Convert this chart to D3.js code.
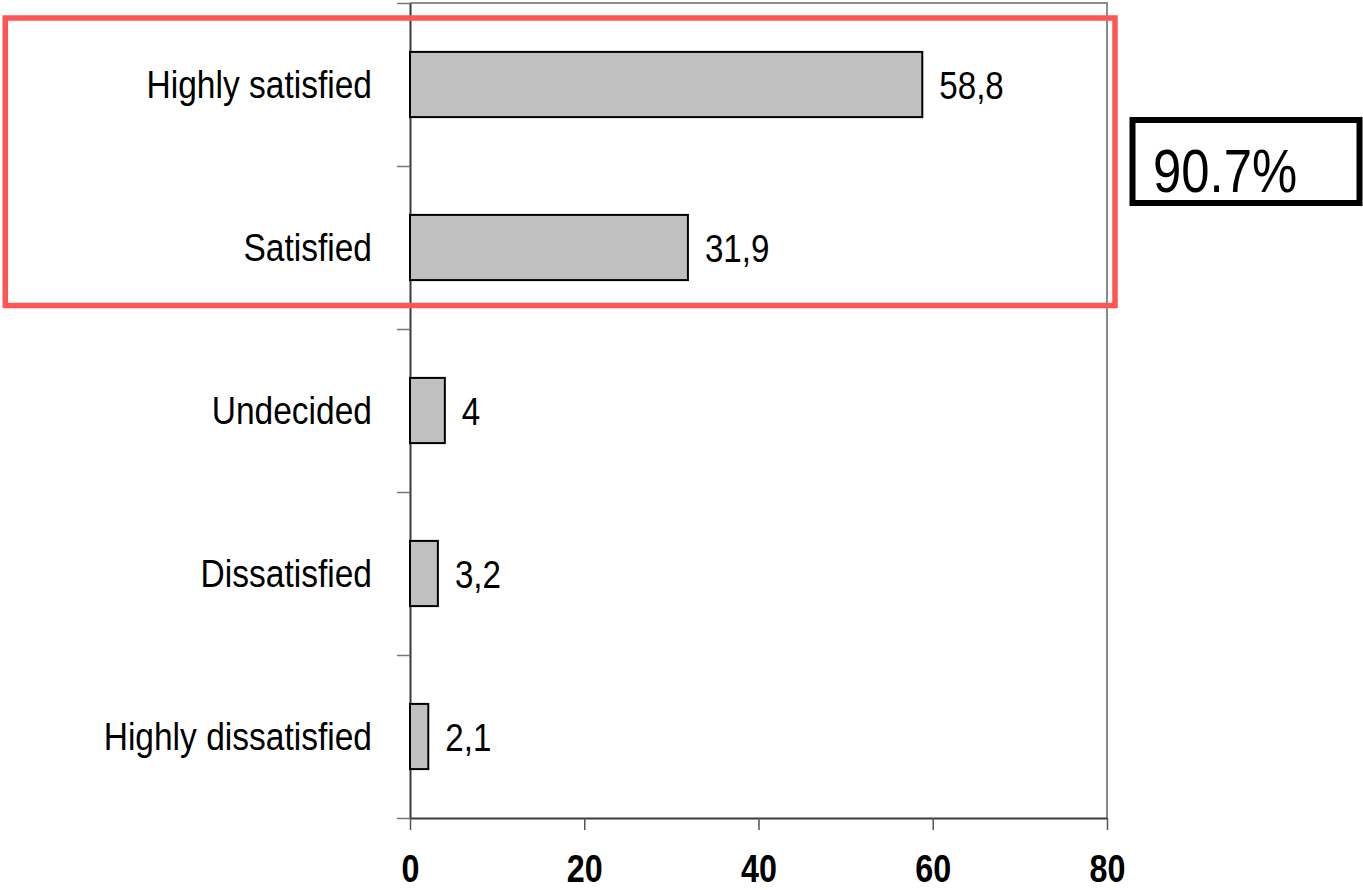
<!DOCTYPE html>
<html>
<head>
<meta charset="utf-8">
<script src="https://cdn.jsdelivr.net/npm/d3@7/dist/d3.min.js"></script>
<style>
  html, body { margin: 0; padding: 0; background: #fff; }
  svg { display: block; }
</style>
</head>
<body>
<svg id="chart" width="1363" height="890"></svg>
<script>
const categories = ["Highly satisfied", "Satisfied", "Undecided", "Dissatisfied", "Highly dissatisfied"];
const values = [58.8, 31.9, 4, 3.2, 2.1];
const valueLabels = ["58,8", "31,9", "4", "3,2", "2,1"];
const xTicks = [0, 20, 40, 60, 80];
const totalLabel = "90.7%";

(function () {
const svg = d3.select("#chart");
const pLeft = 410, pRight = 1107, pTop = 3, pBottom = 818;
const font = "'Liberation Sans', Arial, sans-serif";
const sx = 0.86; // emulate a narrow face

const x = d3.scaleLinear().domain([0, 80]).range([pLeft, pRight]);
const y = d3.scaleBand().domain(categories).range([pTop, pBottom]).paddingInner(0.6).paddingOuter(0.3);
const yEdges = d3.scaleLinear().domain([0, categories.length]).range([pTop, pBottom]);

// plot frame (top & right)
svg.append("path")
  .attr("d", `M${pLeft},${pTop}H${pRight}V${pBottom}`)
  .attr("fill", "none").attr("stroke", "#8c8c8c").attr("stroke-width", 2);

// left axis with ticks at band edges
const gy = svg.append("g").attr("transform", `translate(${pLeft},0)`)
  .call(d3.axisLeft(yEdges).tickValues(d3.range(0, categories.length + 1)).tickSize(13).tickSizeOuter(0).tickFormat(""));
gy.select(".domain").attr("stroke", "#3a3a3a").attr("stroke-width", 2);
gy.selectAll(".tick line").attr("stroke", "#777").attr("stroke-width", 1.5);

// bottom axis
const gx = svg.append("g").attr("transform", `translate(0,${pBottom})`)
  .call(d3.axisBottom(x).tickValues(xTicks).tickSize(12).tickSizeOuter(0).tickFormat(d3.format("d")));
gx.select(".domain").attr("stroke", "#3a3a3a").attr("stroke-width", 2);
gx.selectAll(".tick line").attr("stroke", "#555").attr("stroke-width", 1.5);
gx.selectAll(".tick text")
  .attr("y", 0).attr("dy", null)
  .attr("transform", `translate(0,64) scale(0.85,1)`)
  .attr("font-family", font).attr("font-weight", "bold").attr("font-size", 38).attr("fill", "#000");

// category labels
svg.append("g").selectAll("text").data(categories).join("text")
  .attr("transform", d => `translate(372,${y(d) + y.bandwidth() / 2 + 13}) scale(${sx},1)`)
  .attr("text-anchor", "end")
  .attr("font-family", font).attr("font-size", 39).attr("fill", "#000")
  .text(d => d);

// bars
svg.append("g").selectAll("rect").data(values).join("rect")
  .attr("x", x(0))
  .attr("y", (d, i) => y(categories[i]))
  .attr("width", d => x(d) - x(0))
  .attr("height", y.bandwidth())
  .attr("fill", "#c0c0c0").attr("stroke", "#000").attr("stroke-width", 2);

// value labels
svg.append("g").selectAll("text").data(values).join("text")
  .attr("transform", (d, i) => `translate(${x(d) + 17},${y(categories[i]) + y.bandwidth() / 2 + 14}) scale(0.85,1)`)
  .attr("font-family", font).attr("font-size", 39).attr("fill", "#000")
  .text((d, i) => valueLabels[i]);

// red highlight rectangle
svg.append("rect")
  .attr("x", 5.3).attr("y", 18)
  .attr("width", 1115 - 5.3).attr("height", 305.5 - 18)
  .attr("fill", "none").attr("stroke", "#ff5555").attr("stroke-width", 5.5);

// total box
svg.append("rect")
  .attr("x", 1132.5).attr("y", 120)
  .attr("width", 1359.5 - 1132.5).attr("height", 203 - 120)
  .attr("fill", "none").attr("stroke", "#000").attr("stroke-width", 6);
svg.append("text")
  .attr("transform", `translate(1153,192) scale(0.82,1)`)
  .attr("font-family", font).attr("font-size", 62).attr("fill", "#000")
  .text(totalLabel);
})();
</script>
</body>
</html>
